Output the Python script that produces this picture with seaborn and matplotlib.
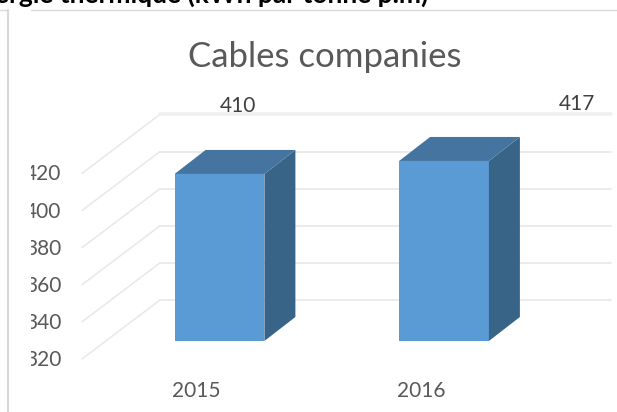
import matplotlib
matplotlib.use("Agg")
import matplotlib.pyplot as plt
import pandas as pd
import seaborn as sns
from matplotlib.lines import Line2D
from matplotlib.patches import Polygon
from matplotlib.transforms import Bbox, ScaledTranslation

years = ["2015", "2016"]
values = [410, 417]
y_ticks = [320, 340, 360, 380, 400, 420]
title = "Cables companies"
cropped_heading = "Énergie thermique (kWh par tonne p.m)"

W, H = 617, 412
sns.set_theme(style="white")
plt.rcParams["font.family"] = ["Lato", "DejaVu Sans"]

fig = plt.figure(figsize=(W / 100, H / 100), dpi=100)
# axes box = front face of the chart, in pixels of the picture
left, right, bottom, top = 82, 611, 341, 155.4
ax = fig.add_axes([left / W, 1 - bottom / H, (right - left) / W, (bottom - top) / H])

df = pd.DataFrame({"year": years, "value": values})
sns.barplot(data=df, x="year", y="value", color="#5B9BD5", saturation=1, width=0.4, ax=ax,
            zorder=3, linewidth=0, edgecolor="none")

ax.set_xlim((left - 219.5) / 224.5, (right - 219.5) / 224.5)
ax.set_ylim(y_ticks[0], y_ticks[-1])
ax.set_xlabel("")
ax.set_ylabel("")
for s in ax.spines.values():
    s.set_visible(False)
ax.patch.set_alpha(0)

ux = 1 / 224.5    # data per pixel
uy = 100 / (bottom - top)

# walls: diagonal from the front of the floor to the back, then along the back
x_front = ax.get_xlim()[0]
x_back = x_front + 78 * ux
for v in y_ticks:
    ax.plot([x_front, x_back], [v - 18 * uy, v + 41 * uy], color="#e8e8e8", lw=1.1,
            clip_on=False, zorder=1)
    lw = 2.6 if v == y_ticks[-1] else 1.2
    color = "#f0f0f0" if v == y_ticks[-1] else "#e8e8e8"
    ax.plot([x_back, ax.get_xlim()[1]], [v + 41 * uy, v + 41 * uy], color=color, lw=lw,
            clip_on=False, zorder=1)

# 3d faces of each bar
dx, dy = 31 * ux, 24 * uy
for bar in list(ax.patches):
    x0, x1 = bar.get_x(), bar.get_x() + bar.get_width()
    y1 = bar.get_height()
    y0 = y_ticks[0]
    ax.add_patch(Polygon([(x1, y0), (x1 + dx, y0 + dy), (x1 + dx, y1 + dy), (x1, y1)],
                         color="#386488", clip_on=False, zorder=3, lw=0))
    ax.add_patch(Polygon([(x0, y1), (x1, y1), (x1 + dx, y1 + dy), (x0 + dx, y1 + dy)],
                         color="#44749F", clip_on=False, zorder=3, lw=0))

ax.tick_params(axis="both", length=0, labelsize=15, labelcolor="#595959")
ax.set_yticks(y_ticks)
ax.tick_params(axis="x", pad=29)

# the reference has the axis labels cut on the left
clip = Bbox([[31, 0], [W, H]])
for lab in ax.get_yticklabels():
    lab.set_transform(lab.get_transform() + ScaledTranslation(-16 / 100, -17 / 100, fig.dpi_scale_trans))
    lab.set_clip_box(clip)
    lab.set_clip_on(True)
for lab in ax.get_xticklabels():
    lab.set_transform(lab.get_transform() + ScaledTranslation(-23 / 100, 0, fig.dpi_scale_trans))

# data labels sit away from their bars in the reference
label_offsets = [(18, 68), (133, 57)]
for i, v in enumerate(values):
    ax.annotate(str(v), (i, v), xytext=label_offsets[i], textcoords="offset pixels",
                ha="center", va="center", fontsize=15, color="#404040", annotation_clip=False)

fig.text(325 / W, 1 - 57 / H, title, ha="center", va="center", fontsize=25, color="#595959")

# frame of the pasted chart, with the gap the reference has at the top left
line_color = "#d9d9d9"
fig.add_artist(Line2D([8 / W, 8 / W], [0, 1 - 10 / H], color=line_color, lw=1.5))
fig.add_artist(Line2D([0, 8 / W], [1 - 10 / H, 1 - 10 / H], color=line_color, lw=1))
fig.add_artist(Line2D([31 / W, 1], [1 - 10 / H, 1 - 10 / H], color=line_color, lw=1))

# heading of the page, cut by the crop
fig.text(-35 / W, 1 - 3 / H, cropped_heading, ha="left", va="baseline", fontsize=19,
         fontweight="bold", color="black")

fig.savefig("out.png", dpi=100)
